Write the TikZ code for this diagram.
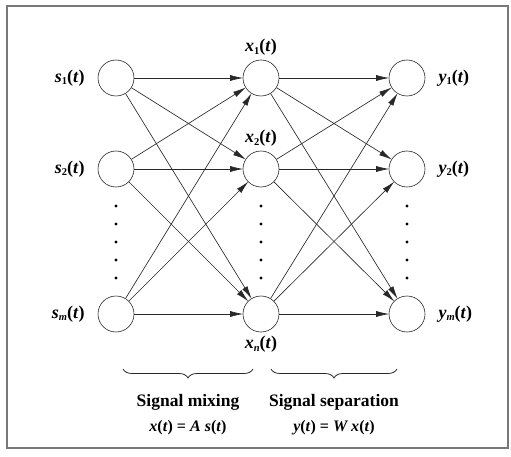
\documentclass[tikz,border=0pt]{standalone}
\usepackage{fontspec}
\setmainfont{Liberation Serif}
\usetikzlibrary{arrows.meta, positioning, decorations.pathreplacing}
\definecolor{framegray}{RGB}{120, 120, 120}
\definecolor{darkgray}{RGB}{40, 40, 40}
\newcommand{\sig}[2]{\textbf{\textit{#1}\raisebox{-0.3ex}{\fontsize{10.5}{10.5}\selectfont #2}(\textit{t})}}
\tikzset{
  neuron/.style={circle, draw=darkgray, line width=0.6pt, minimum size=36pt, inner sep=0pt},
  siglabel/.style={font=\fontsize{18}{20}\selectfont, inner sep=1pt},
  arrow/.style={-{Latex[length=13pt, width=6pt]}, line width=0.65pt, color=darkgray, shorten >=-0.5pt},
  vdot/.style={circle, fill=black, inner sep=0pt, minimum size=3.2pt},
  bracebox/.style={decorate, decoration={brace, mirror, amplitude=9pt}, line width=0.8pt, color=darkgray},
  caption/.style={font=\fontsize{17.5}{19}\selectfont\bfseries, inner sep=1pt},
  formula/.style={font=\fontsize{16}{18}\selectfont\bfseries, inner sep=1pt},
}
\begin{document}
\begin{tikzpicture}[x=1pt, y=-1pt]
  \useasboundingbox (0,0) rectangle (511,457);
  \draw[framegray, line width=1.2pt] (7,6) rectangle (508,448);

  % neurons
  \node[neuron] (s1) at (116,78) {};
  \node[neuron] (s2) at (116,169) {};
  \node[neuron] (sm) at (116,314) {};
  \node[neuron] (x1) at (261,78) {};
  \node[neuron] (x2) at (261,169) {};
  \node[neuron] (xn) at (261,314) {};
  \node[neuron] (y1) at (407,78) {};
  \node[neuron] (y2) at (407,169) {};
  \node[neuron] (ym) at (407,314) {};

  % labels
  \node[siglabel, left=12pt of s1] (ls1) {\sig{s}{1}};
  \node[siglabel, left=12pt of s2] (ls2) {\sig{s}{2}};
  \node[siglabel, left=12pt of sm] (lsm) {\sig{s}{\textit{m}}};
  \node[siglabel, above=3pt of x1] (lx1) {\sig{x}{1}};
  \node[siglabel, above=3pt of x2] (lx2) {\sig{x}{2}};
  \node[siglabel, below=3pt of xn] (lxn) {\sig{x}{\textit{n}}};
  \node[siglabel, right=12pt of y1] (ly1) {\sig{y}{1}};
  \node[siglabel, right=12pt of y2] (ly2) {\sig{y}{2}};
  \node[siglabel, right=12pt of ym] (lym) {\sig{y}{\textit{m}}};

  % dots
  \foreach \c in {116,261,407}
    \foreach \r in {206,224,242,260,278}
      \node[vdot] at (\c,\r) {};

  % connections
  \foreach \a in {s1,s2,sm}
    \foreach \b in {x1,x2,xn}
      \draw[arrow] (\a) -- (\b);
  \foreach \a in {x1,x2,xn}
    \foreach \b in {y1,y2,ym}
      \draw[arrow] (\a) -- (\b);

  % braces
  \coordinate (mixL) at (123,369);
  \coordinate (mixR) at (253,369);
  \coordinate (sepL) at (271,369);
  \coordinate (sepR) at (397,369);
  \draw[bracebox] (mixL) -- (mixR);
  \draw[bracebox] (sepL) -- (sepR);

  \node[caption] (mix) at (188,402) {Signal mixing};
  \node[formula] (mixeq) at (188,428) {\textit{x}(\textit{t}) = \textit{A s}(\textit{t})};
  \node[caption] (sep) at (334,402) {Signal separation};
  \node[formula] (sepeq) at (334,428) {\textit{y}(\textit{t}) = \textit{W x}(\textit{t})};
\end{tikzpicture}
\end{document}
